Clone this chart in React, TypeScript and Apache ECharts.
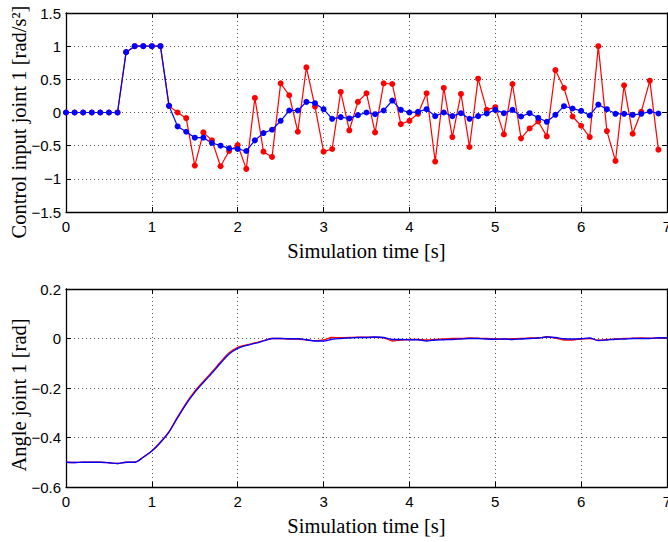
import React, { useEffect, useRef } from "react";
import * as echarts from "echarts";

const timeStep = 0.1;

// Top plot: control input joint 1 [rad/s^2], samples every 0.1 s from 0 to 6.9 s
const controlRed = [
  0, 0, 0, 0, 0, 0, 0, 0.91, 1.0, 1.0,
  1.0, 1.0, 0.1, 0.0, -0.085, -0.8, -0.3, -0.42, -0.81, -0.58,
  -0.49, -0.85, 0.22, -0.59, -0.67, 0.44, 0.26, -0.29, 0.68, 0.09,
  -0.59, -0.55, 0.31, -0.27, 0.16, 0.29, -0.3, 0.44, 0.43, -0.175,
  -0.125, -0.02, 0.29, -0.74, 0.37, -0.37, 0.28, -0.52, 0.51, 0.04,
  0.08, -0.33, 0.43, -0.39, -0.24, -0.135, -0.36, 0.64, 0.37, -0.06,
  -0.2, -0.37, 1.0, -0.28, -0.73, 0.41, -0.32, 0.01, 0.48, -0.56,
];
const controlBlue = [
  0, 0, 0, 0, 0, 0, 0, 0.91, 1.0, 1.0,
  1.0, 1.0, 0.1, -0.21, -0.29, -0.38, -0.38, -0.46, -0.5, -0.54,
  -0.55, -0.58, -0.42, -0.31, -0.26, -0.125, 0.03, 0.03, 0.16, 0.14,
  0.05, -0.095, -0.07, -0.09, -0.04, 0.0, -0.025, 0.03, 0.18, 0.04,
  0.0, 0.01, 0.05, -0.055, 0.0, -0.055, -0.01, -0.095, -0.055, -0.015,
  0.04, -0.01, 0.04, -0.06, -0.01, -0.08, -0.14, -0.035, 0.095, 0.06,
  0.025, -0.045, 0.12, 0.05, -0.02, -0.02, -0.035, -0.02, 0.015, -0.015,
];

// Bottom plot: angle joint 1 [rad], samples every 0.1 s from 0 to 7 s
const angleBlue = [
  -0.5, -0.501, -0.5, -0.5, -0.5, -0.502, -0.505, -0.5, -0.5, -0.48,
  -0.455, -0.42, -0.378, -0.32, -0.265, -0.218, -0.178, -0.14, -0.1, -0.063,
  -0.04, -0.028, -0.02, -0.01, 0.0, 0.0, -0.001, -0.001, -0.005, -0.01,
  -0.01, -0.003, 0.0, 0.002, 0.004, 0.004, 0.006, 0.004, -0.004, -0.004,
  -0.005, -0.005, -0.01, -0.006, -0.005, -0.004, -0.002, 0.0, 0.0, -0.002,
  -0.003, -0.002, -0.004, -0.002, 0.0, 0.002, 0.006, 0.004, -0.001, -0.002,
  -0.001, 0.002, -0.008, -0.006, -0.003, -0.002, 0.0, 0.0, 0.0, 0.003,
  0.002,
];
const angleRed = [
  -0.5, -0.501, -0.5, -0.5, -0.5, -0.502, -0.505, -0.5, -0.5, -0.479,
  -0.454, -0.418, -0.376, -0.317, -0.261, -0.213, -0.173, -0.135, -0.095, -0.058,
  -0.036, -0.026, -0.018, -0.009, 0.0, 0.0, -0.002, -0.002, -0.006, -0.009,
  -0.006, 0.004, 0.003, 0.004, 0.005, 0.005, 0.005, 0.003, -0.01, -0.006,
  -0.004, -0.004, -0.006, -0.004, -0.002, 0.0, 0.0, 0.002, 0.001, 0.0,
  -0.002, -0.002, -0.001, 0.0, 0.002, 0.002, 0.007, 0.002, -0.006, -0.006,
  -0.002, 0.0, -0.007, -0.004, -0.002, 0.0, 0.001, 0.002, 0.001, 0.002,
  0.001,
];

const xTicksMax = 7;
const topYRange = [-1.5, 1.5];
const bottomYRange = [-0.6, 0.2];
const xTitle = "Simulation time [s]";
const topYTitle = "Control input joint 1 [rad/s\u00B2]";
const bottomYTitle = "Angle joint 1 [rad]";

const toPairs = (vals: number[]) =>
  vals.map((v, i) => [Math.round(i * timeStep * 10) / 10, v]);

const fmt = (v: number) => {
  const s = String(Math.round(v * 10) / 10);
  return s.replace("-", "\u2212");
};

const labelFont = {
  fontFamily: "Liberation Sans, Arial, sans-serif",
  fontSize: 15,
  color: "#000",
};
const serifFamily = "Liberation Serif, Times New Roman, serif";
const titleFont = {
  fontFamily: serifFamily,
  fontSize: 20.5,
  color: "#000",
};

const gridLine = { show: true, lineStyle: { color: "#555", type: [1, 3] as any, width: 1 } };
const frameLine = { show: true, onZero: false, lineStyle: { color: "#000", width: 1.3 } };
const tick = { show: true, inside: true, length: 5, lineStyle: { color: "#000", width: 1 } };

function xAxes(gridIndex: number) {
  return [
    {
      type: "value",
      gridIndex,
      min: 0,
      max: xTicksMax,
      interval: 1,
      position: "bottom",
      axisLine: frameLine,
      axisTick: tick,
      axisLabel: { ...labelFont, margin: 7, formatter: (v: number) => fmt(v) },
      splitLine: gridLine,
      name: xTitle,
      nameLocation: "middle",
      nameGap: 28,
      nameTextStyle: titleFont,
    },
    {
      type: "value",
      gridIndex,
      min: 0,
      max: xTicksMax,
      interval: 1,
      position: "top",
      axisLine: frameLine,
      axisTick: tick,
      axisLabel: { show: false },
      splitLine: { show: false },
    },
  ];
}

function yAxes(gridIndex: number, range: number[], interval: number) {
  return [
    {
      type: "value",
      gridIndex,
      min: range[0],
      max: range[1],
      interval,
      position: "left",
      axisLine: frameLine,
      axisTick: tick,
      axisLabel: { ...labelFont, margin: 5, formatter: (v: number) => fmt(v) },
      splitLine: gridLine,
    },
    {
      type: "value",
      gridIndex,
      min: range[0],
      max: range[1],
      interval,
      position: "right",
      axisLine: frameLine,
      axisTick: tick,
      axisLabel: { show: false },
      splitLine: { show: false },
    },
  ];
}

export default function App() {
  const ref = useRef<HTMLDivElement>(null);
  useEffect(() => {
    if (!ref.current) return;
    const chart = echarts.init(ref.current, undefined, { renderer: "svg" });
    chart.setOption({
      animation: false,
      backgroundColor: "#fff",
      grid: [
        { left: 66, top: 13, width: 601, height: 199, containLabel: false, outerBoundsMode: "none" },
        { left: 66, top: 289, width: 601, height: 198, containLabel: false, outerBoundsMode: "none" },
      ],
      xAxis: [...xAxes(0), ...xAxes(1)],
      yAxis: [...yAxes(0, topYRange, 0.5), ...yAxes(1, bottomYRange, 0.2)],
      graphic: [
        {
          type: "text",
          x: 18.5,
          y: 122,
          rotation: Math.PI / 2,
          style: {
            text: topYTitle,
            font: `20.5px ${serifFamily}`,
            fill: "#000",
            textAlign: "center",
            textVerticalAlign: "middle",
          },
        },
        {
          type: "text",
          x: 18.5,
          y: 395,
          rotation: Math.PI / 2,
          style: {
            text: bottomYTitle,
            font: `20.5px ${serifFamily}`,
            fill: "#000",
            textAlign: "center",
            textVerticalAlign: "middle",
          },
        },
      ],
      series: [
        {
          type: "line",
          xAxisIndex: 0,
          yAxisIndex: 0,
          data: toPairs(controlRed),
          symbol: "circle",
          symbolSize: 6,
          showSymbol: true,
          itemStyle: { color: "#ff0000" },
          lineStyle: { color: "#ff0000", width: 1.2 },
        },
        {
          type: "line",
          xAxisIndex: 0,
          yAxisIndex: 0,
          data: toPairs(controlBlue),
          symbol: "circle",
          symbolSize: 6,
          showSymbol: true,
          itemStyle: { color: "#0000ff" },
          lineStyle: { color: "#0000ff", width: 1.2 },
        },
        {
          type: "line",
          xAxisIndex: 2,
          yAxisIndex: 2,
          data: toPairs(angleRed),
          symbol: "none",
          smooth: 0.3,
          lineStyle: { color: "#ff0000", width: 1.3 },
        },
        {
          type: "line",
          xAxisIndex: 2,
          yAxisIndex: 2,
          data: toPairs(angleBlue),
          symbol: "none",
          smooth: 0.3,
          lineStyle: { color: "#0000ff", width: 1.3 },
        },
      ],
    });
    return () => chart.dispose();
  }, []);
  return (
    <div
      ref={ref}
      style={{ position: "fixed", left: 0, top: 0, width: 668, height: 542, background: "#fff" }}
    />
  );
}
